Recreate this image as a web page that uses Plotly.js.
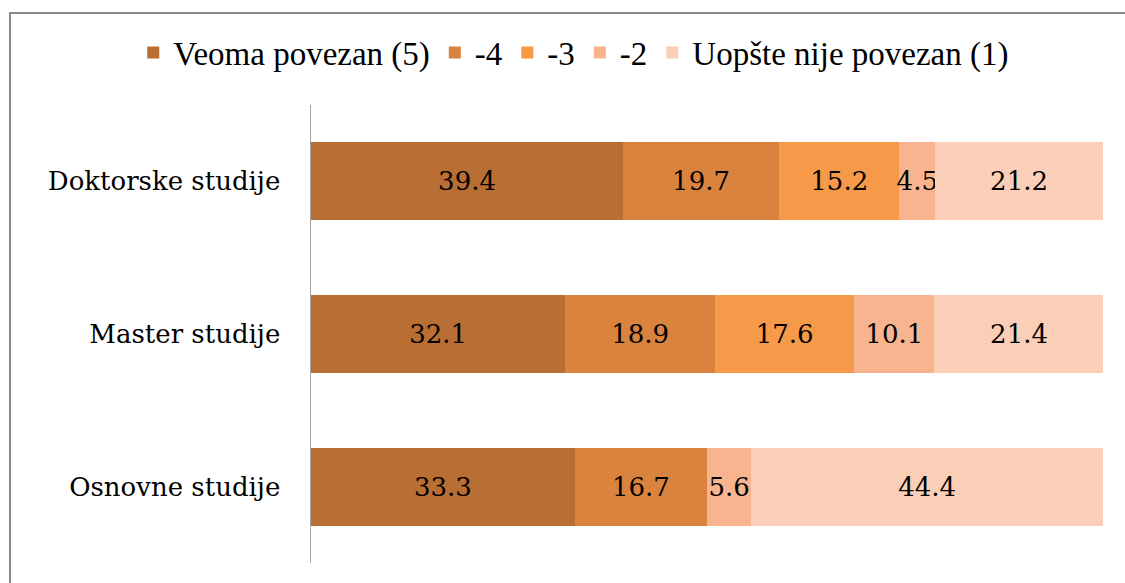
<!DOCTYPE html>
<html>
<head>
<meta charset="utf-8">
<script src="https://cdn.plot.ly/plotly-3.0.1.min.js"></script>
<style>
  html, body { margin: 0; padding: 0; background: #fff; }
  #wrap { position: relative; width: 1125px; height: 583px; overflow: hidden; }
  #frame { position: absolute; left: 9px; top: 12px; width: 1140px; height: 640px; border: 2px solid #8a8a8a; box-sizing: border-box; pointer-events: none; }
  #chart { position: absolute; left: 0; top: 0; width: 1125px; height: 583px; }
</style>
</head>
<body>
<div id="wrap">
  <div id="chart"></div>
  <div id="frame"></div>
</div>
<script>
const categories = ["Doktorske studije", "Master studije", "Osnovne studije"];
const seriesNames = ["Veoma povezan (5)", "-4", "-3", "-2", "Uopšte nije povezan (1)"];
const veoma = [39.4, 32.1, 33.3];
const s4 = [19.7, 18.9, 16.7];
const s3 = [15.2, 17.6, null];
const s2 = [4.5, 10.1, 5.6];
const uopste = [21.2, 21.4, 44.4];
const seriesValues = [veoma, s4, s3, s2, uopste];
const colors = ["#B96E33", "#DA833E", "#F69A4A", "#F8B48F", "#FBCEB8"];

const FONT = "DejaVu Serif, Liberation Serif, serif";
const LEGFONT = "Liberation Serif, DejaVu Serif, serif";

const traces = seriesNames.map((name, i) => ({
  type: "bar",
  orientation: "h",
  name: name,
  y: categories,
  x: seriesValues[i],
  marker: { color: colors[i], line: { width: 0 } },
  text: seriesValues[i].map(v => v == null ? "" : v.toFixed(1)),
  textposition: "inside",
  insidetextanchor: "middle",
  textangle: 0,
  constraintext: "none",
  textfont: { family: FONT, size: 26, color: "#000" },
  hoverinfo: "name+x"
}));

const W = 1125, ML = 11, MR = 11;
const plotW = W - ML - MR;

const layout = {
  width: W,
  height: 583,
  barmode: "stack",
  bargap: 0.49,
  margin: { l: ML, r: MR, t: 105, b: 20, autoexpand: false },
  paper_bgcolor: "#fff",
  plot_bgcolor: "#fff",
  font: { family: FONT, size: 24, color: "#000" },
  showlegend: true,
  legend: {
    orientation: "h",
    xref: "container",
    yref: "container",
    x: 0.51,
    xanchor: "center",
    y: 0.91,
    yanchor: "middle",
    traceorder: "normal",
    font: { family: LEGFONT, size: 33, color: "#000" },
    itemwidth: 30,
    tracegroupgap: 0
  },
  xaxis: {
    domain: [(311 - ML) / plotW, (1103 - ML) / plotW],
    range: [0, 100],
    showgrid: false,
    zeroline: false,
    showline: false,
    showticklabels: false,
    ticks: ""
  },
  yaxis: {
    type: "category",
    categoryorder: "array",
    categoryarray: categories,
    autorange: "reversed",
    automargin: false,
    showline: true,
    linecolor: "#a6a6a6",
    linewidth: 1.5,
    showgrid: false,
    zeroline: false,
    ticks: "",
    ticklabelstandoff: 24,
    tickfont: { family: FONT, size: 26, color: "#000" }
  }
};

Plotly.newPlot("chart", traces, layout, { displayModeBar: false, staticPlot: true });
</script>
</body>
</html>
